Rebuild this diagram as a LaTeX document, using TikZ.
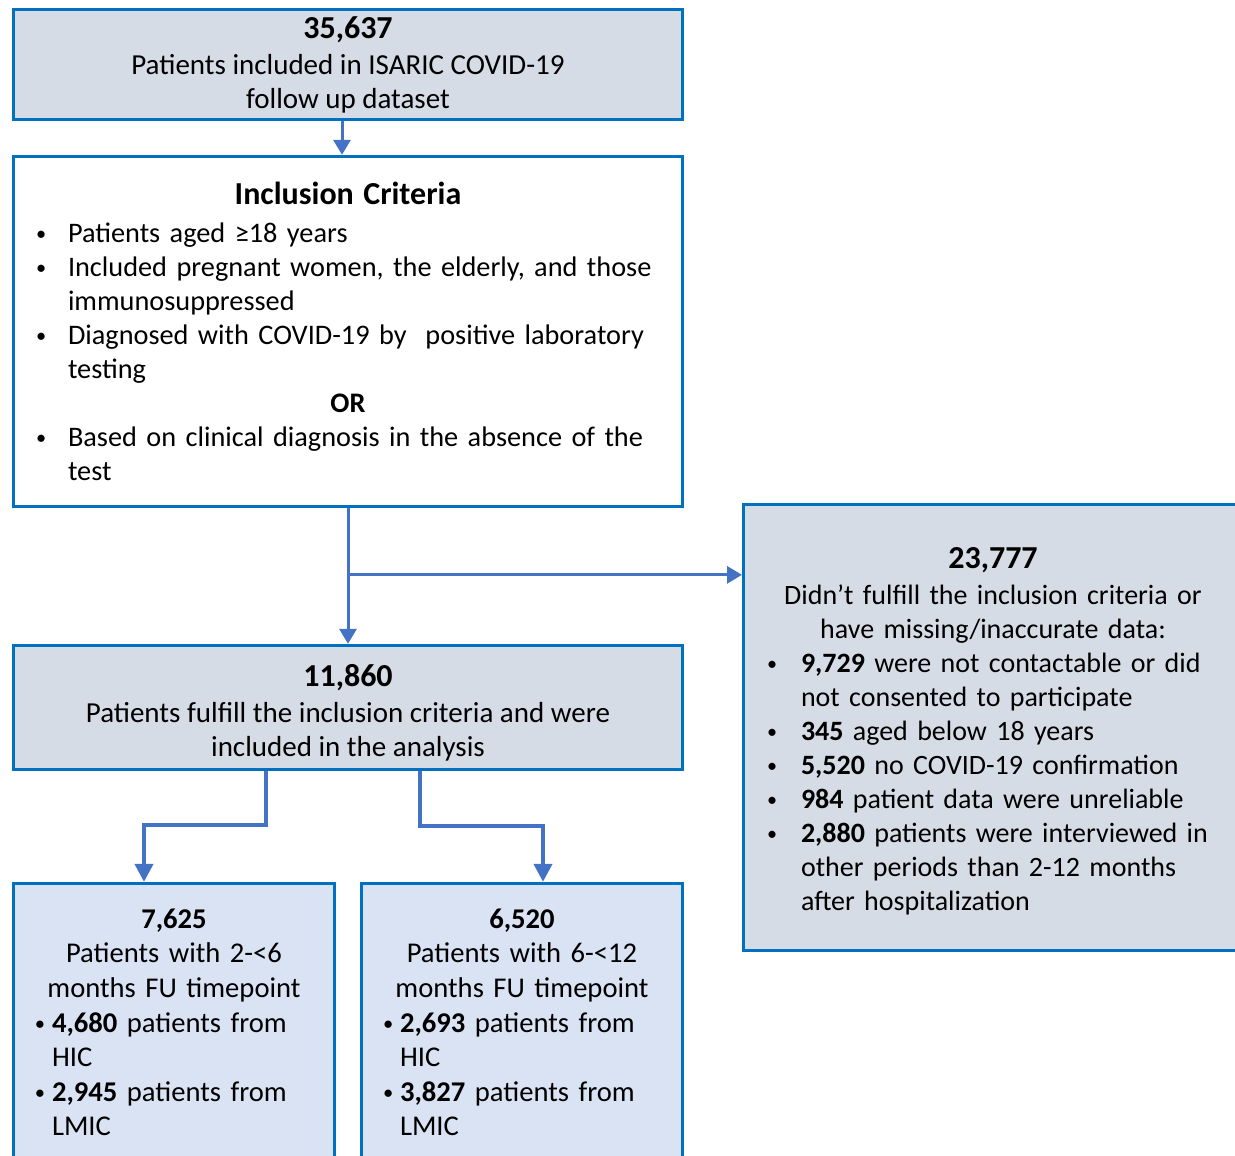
\documentclass[tikz,border=0pt]{standalone}
\usepackage{fontspec}
\usepackage{graphicx}
\setmainfont{Carlito}
\usetikzlibrary{positioning,calc,arrows.meta}

\definecolor{boxblue}{RGB}{0,112,192}
\definecolor{linkblue}{RGB}{68,114,196}
\definecolor{countfill}{RGB}{214,220,229}
\definecolor{splitfill}{RGB}{218,227,243}

% bullet rows of fixed width, so that centring leaves them alone
\newcommand{\smallbullet}{\raisebox{0.12ex}{\scalebox{0.72}{\textbullet}}}
\newcommand{\inclitem}[1]{\makebox[320pt][l]{\hspace{4pt}\makebox[16pt][l]{\smallbullet}#1}}
\newcommand{\inclcont}[1]{\makebox[320pt][l]{\hspace{20pt}#1}}
\newcommand{\exclitem}[1]{\makebox[230pt][l]{\hspace{2pt}\makebox[17pt][l]{\smallbullet}#1}}
\newcommand{\exclcont}[1]{\makebox[230pt][l]{\hspace{19pt}#1}}
\newcommand{\fuitem}[1]{\makebox[150pt][l]{\hspace{5.5pt}\makebox[8.5pt][l]{\smallbullet}#1}}
\newcommand{\fucont}[1]{\makebox[150pt][l]{\hspace{14pt}#1}}
\newcommand{\bignum}[1]{{\fontsize{16}{17}\selectfont\bfseries #1}}

\begin{document}
\begin{tikzpicture}[x=0.5pt, y=-0.5pt,
    countbox/.style={draw=boxblue, line width=1.5pt, fill=countfill, align=center,
      minimum width=334.5pt, font=\fontsize{14.5}{17}\selectfont},
    critbox/.style={countbox, fill=white, font=\fontsize{14.15}{17}\selectfont},
    exclbox/.style={countbox, font=\fontsize{14}{17}\selectfont},
    fubox/.style={countbox, fill=splitfill, minimum width=160.5pt, minimum height=139pt,
      text width=150pt, font=\fontsize{14.3}{17.3}\selectfont},
    flow/.style={draw=linkblue, line width=1.5pt, -{Triangle[width=8.5pt,length=7.5pt]}},
    flowthick/.style={flow, line width=2pt, -{Triangle[width=9pt,length=9pt]}}]
    \useasboundingbox (0,0) rectangle (1235,1155);
    \clip (0,0) rectangle (1235,1155);

    \node[countbox, minimum height=54pt, anchor=north] (total) at (348,8)
      {\bignum{35,637}\\[1pt] Patients included in ISARIC COVID-19\\ follow up dataset};
    \node[critbox, minimum height=175pt, text width=320pt, below=17pt of total] (crit)
      {\bignum{Inclusion Criteria}\\[2pt]
       \inclitem{Patients aged ≥18 years}\\
       \inclitem{Included pregnant women, the elderly, and those}\\
       \inclcont{immunosuppressed}\\
       \inclitem{Diagnosed with COVID-19 by\ \ positive laboratory}\\
       \inclcont{testing}\\
       \textbf{OR}\\
       \inclitem{Based on clinical diagnosis in the absence of the}\\
       \inclcont{test}};
    \node[countbox, minimum height=62pt, below=68pt of crit] (cohort)
      {\rule{0pt}{16pt}\bignum{11,860}\\[1pt] Patients fulfill the inclusion criteria and were\\ included in the analysis};
    \node[exclbox, minimum width=249.5pt, minimum height=223pt, text width=230pt,
      below right=-2.5pt and 29pt of crit.south east] (excl)
      {\rule{0pt}{14pt}\bignum{23,777}\\[1pt]
       Didn’t fulfill the inclusion criteria or\\
       have missing/inaccurate data:\\
       \exclitem{\textbf{9,729} were not contactable or did}\\
       \exclcont{not consented to participate}\\
       \exclitem{\textbf{345} aged below 18 years}\\
       \exclitem{\textbf{5,520} no COVID-19 confirmation}\\
       \exclitem{\textbf{984} patient data were unreliable}\\
       \exclitem{\textbf{2,880} patients were interviewed in}\\
       \exclcont{other periods than 2-12 months}\\
       \exclcont{after hospitalization}};
    \node[fubox, below right=55.5pt and 0pt of cohort.south west] (early)
      {\textbf{7,625}\\
       Patients with 2-<6\\
       months FU timepoint\\
       \fuitem{\textbf{4,680} patients from}\\
       \fucont{HIC}\\
       \fuitem{\textbf{2,945} patients from}\\
       \fucont{LMIC}};
    \node[fubox, below left=55.5pt and 0pt of cohort.south east] (late)
      {\textbf{6,520}\\
       Patients with 6-<12\\
       months FU timepoint\\
       \fuitem{\textbf{2,693} patients from}\\
       \fucont{HIC}\\
       \fuitem{\textbf{3,827} patients from}\\
       \fucont{LMIC}};

    \coordinate[below=33.5pt of crit.south] (branch);

    \draw[flow] ([xshift=-3pt]total.south) -- ([xshift=-3pt]crit.north);
    \draw[flow] (crit.south) -- (cohort.north);
    \draw[flow] (branch) -- (branch -| excl.west);
    \draw[flowthick] ([xshift=-41pt]cohort.south) -- ++(0pt,-27pt) -| ([xshift=-15pt]early.north);
    \draw[flowthick] ([xshift=36pt]cohort.south) -- ++(0pt,-27.5pt) -| ([xshift=10.5pt]late.north);
\end{tikzpicture}
\end{document}
